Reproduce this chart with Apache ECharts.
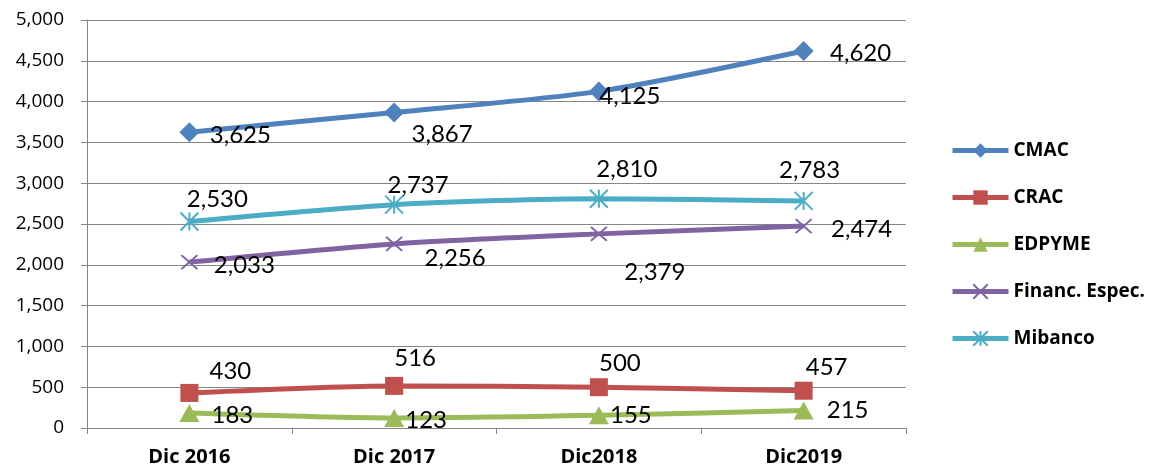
<!DOCTYPE html>
<html>
<head>
<meta charset="utf-8">
<script src="https://cdn.jsdelivr.net/npm/echarts@6/dist/echarts.min.js"></script>
<style>
  html, body { margin: 0; padding: 0; background: #fff; }
  #chart { width: 1149px; height: 469px; }
</style>
</head>
<body>
<div id="chart"></div>
<script>
var categories = ["Dic 2016", "Dic 2017", "Dic2018", "Dic2019"];
var seriesNames = ["CMAC", "CRAC", "EDPYME", "Financ. Espec.", "Mibanco"];
var cmac = [3625, 3867, 4125, 4620];
var crac = [430, 516, 500, 457];
var edpyme = [183, 123, 155, 215];
var financ = [2033, 2256, 2379, 2474];
var mibanco = [2530, 2737, 2810, 2783];
var yTicks = [0, 500, 1000, 1500, 2000, 2500, 3000, 3500, 4000, 4500, 5000];

// label offsets from each point (pixels), as laid out in the original
var labelOffsets = [
    [[51, 3], [48, 22], [31, 5], [57, 2]],
    [[41, -22], [21, -28], [21, -24], [23, -23]],
    [[43, 2], [32, 2], [32, 0], [44, 0]],
    [[55, 3], [61, 14], [56, 38], [58, 3]],
    [[28, -22], [24, -19], [28, -29], [6, -31]]
];
var colors = ["#4F81BD", "#C0504D", "#9BBB59", "#8064A2", "#4BACC6"];
var symbols = [
    "diamond",
    "rect",
    "triangle",
    "path://M0,0L10,10M10,0L0,10",
    "path://M0,0L10,10M10,0L0,10M5,0L5,10"
];
var symbolSizes = [[20, 20], [18, 18], [20, 18], [16, 14], [18, 18]];
var values = [cmac, crac, edpyme, financ, mibanco];

var fmt = function(v) { return echarts.format.addCommas(v); };

var chart = echarts.init(document.getElementById("chart"));

var series = seriesNames.map(function(name, i) {
    var isPath = symbols[i].indexOf("path://") === 0;
    return {
        name: name,
        type: "line",
        smooth: 0.25,
        data: values[i].map(function(v, j) {
            return {
                value: v,
                label: { offset: labelOffsets[i][j] }
            };
        }),
        symbol: symbols[i],
        symbolSize: symbolSizes[i],
        lineStyle: { color: colors[i], width: 5 },
        itemStyle: isPath
            ? { color: colors[i], borderColor: colors[i], borderWidth: 2 }
            : { color: colors[i] },
        label: {
            show: true,
            position: "inside",
            color: "#000",
            fontSize: 24,
            fontFamily: "Lato",
            formatter: function(p) { return fmt(p.value); }
        },
        emphasis: { disabled: true },
        z: 2 + i
    };
});

var option = {
    animation: false,
    backgroundColor: "#fff",
    grid: { left: 87, right: 243, top: 20, bottom: 41, containLabel: false },
    legend: {
        orient: "vertical",
        left: 945,
        top: 136,
        itemGap: 28,
        itemWidth: 56,
        itemHeight: 18,
        data: seriesNames,
        lineStyle: { width: 5 },
        textStyle: { fontSize: 19, fontWeight: "bold", color: "#000", fontFamily: "Open Sans", padding: [0, 0, 0, 0] }
    },
    xAxis: {
        type: "category",
        data: categories,
        boundaryGap: true,
        axisLine: { lineStyle: { color: "#868686", width: 1 } },
        axisTick: { show: true, length: 6, lineStyle: { color: "#868686" } },
        axisLabel: {
            fontSize: 20,
            fontWeight: "bold",
            color: "#000",
            fontFamily: "Open Sans",
            margin: 19
        },
        splitLine: { show: false }
    },
    yAxis: {
        type: "value",
        min: yTicks[0],
        max: yTicks[yTicks.length - 1],
        interval: 500,
        axisLine: { show: true, lineStyle: { color: "#868686", width: 1 } },
        axisTick: { show: true, length: 6, lineStyle: { color: "#868686" } },
        axisLabel: {
            fontSize: 19,
            color: "#000",
            fontFamily: "Open Sans",
            margin: 23,
            formatter: function(v) { return fmt(v); }
        },
        splitLine: { show: true, lineStyle: { color: "#868686", width: 1 } }
    },
    series: series
};

chart.setOption(option);
window.addEventListener("resize", function() { chart.resize(); });
</script>
</body>
</html>
